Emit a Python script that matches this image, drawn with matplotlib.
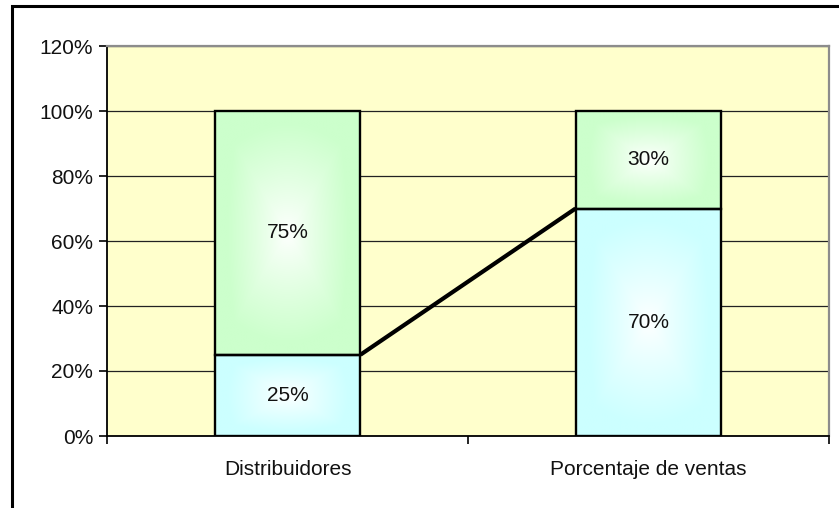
import numpy as np
import matplotlib
matplotlib.use("Agg")
import matplotlib.pyplot as plt
from matplotlib.colors import LinearSegmentedColormap
from matplotlib.patches import Rectangle

plt.rcParams['font.family'] = ['Liberation Sans', 'DejaVu Sans']

categories = ["Distribuidores", "Porcentaje de ventas"]
bottom_vals = [25, 70]
top_vals = [75, 30]
yticks = [0, 20, 40, 60, 80, 100, 120]
ytick_labels = ["0%", "20%", "40%", "60%", "80%", "100%", "120%"]

bottom_color = "#ccffff"
top_color = "#ccffcc"
bar_width = 0.404

W, H = 839, 508
fig = plt.figure(figsize=(W / 100, H / 100), dpi=100)
fig.patch.set_facecolor("white")

# outer chart border (top/left visible, rest cropped)
fig.patches.append(Rectangle((11.5 / W, -0.1), 2, 1 - 6.5 / H + 0.1,
                             transform=fig.transFigure, fill=False,
                             edgecolor="black", linewidth=2.2, zorder=0))

ax = fig.add_axes([107 / W, 1 - 436 / H, (829 - 107) / W, (436 - 46) / H])
ax.set_facecolor("#ffffcc")
ax.set_xlim(-0.5, 1.5)
ax.set_ylim(0, 120)

ax.set_yticks(yticks)
ax.set_yticklabels(ytick_labels)
ax.yaxis.grid(True, color="#222222", linewidth=0.9)
ax.set_axisbelow(True)

x = np.arange(len(categories))
ax.set_xticks(x)
ax.set_xticklabels(categories)
ax.set_xticks([-0.5, 0.5, 1.5], minor=True)
ax.tick_params(axis="x", which="major", length=0, pad=17, labelsize=15,
               labelcolor="#111111")
ax.tick_params(axis="x", which="minor", length=6, width=1.2, direction="out")
ax.tick_params(axis="y", length=6, width=1.2, direction="out", pad=4, labelsize=15,
               labelcolor="#111111")

for s in ["top", "right"]:
    ax.spines[s].set_color("#8c8c8c")
    ax.spines[s].set_linewidth(1.6)
for s in ["left", "bottom"]:
    ax.spines[s].set_color("black")
    ax.spines[s].set_linewidth(1.3)


def gradient_fill(patch, color):
    cmap = LinearSegmentedColormap.from_list("g", ["white", color])
    n = 200
    u = np.linspace(-1, 1, n)
    U, V = np.meshgrid(u, u)
    t = np.clip(np.maximum(np.abs(U), np.abs(V)), 0, 1)
    t = np.sqrt(0.6 * U ** 2 + 0.4 * V ** 2) * 0.5 + 0.5 * t
    t = np.clip(t * 1.35, 0, 1) ** 0.85
    bx, by = patch.get_x(), patch.get_y()
    bw, bh = patch.get_width(), patch.get_height()
    im = ax.imshow(t, cmap=cmap, vmin=0, vmax=1, aspect="auto",
                   extent=[bx, bx + bw, by, by + bh], origin="lower",
                   zorder=2, interpolation="bilinear")
    im.set_clip_path(patch)


bars_b = ax.bar(x, bottom_vals, width=bar_width, color="none",
                edgecolor="black", linewidth=1.7, zorder=3)
bars_t = ax.bar(x, top_vals, bottom=bottom_vals, width=bar_width, color="none",
                edgecolor="black", linewidth=1.7, zorder=3)
for p in bars_b:
    gradient_fill(p, bottom_color)
for p in bars_t:
    gradient_fill(p, top_color)

ax.set_xlim(-0.5, 1.5)
ax.set_ylim(0, 120)

# series line connecting bottom segments
ax.plot([x[0] + bar_width / 2, x[1] - bar_width / 2], [bottom_vals[0], bottom_vals[1]],
        color="black", linewidth=3.0, zorder=4, solid_capstyle="butt")

for i in range(len(categories)):
    ax.text(x[i], bottom_vals[i] / 2, f"{bottom_vals[i]}%", ha="center", va="center",
            fontsize=15, color="#111111", zorder=5)
    ax.text(x[i], bottom_vals[i] + top_vals[i] / 2, f"{top_vals[i]}%", ha="center",
            va="center", fontsize=15, color="#111111", zorder=5)

fig.savefig("out.png", dpi=100)
